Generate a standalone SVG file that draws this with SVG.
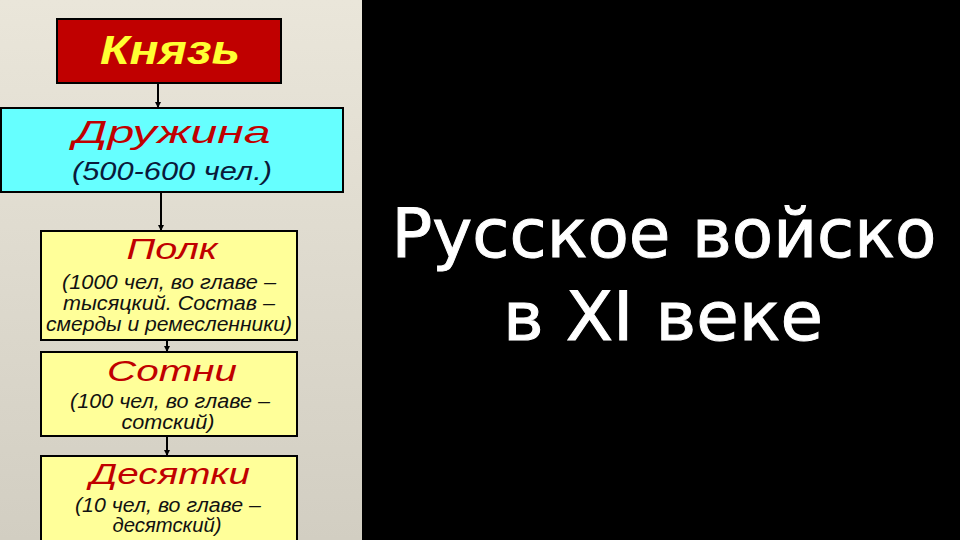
<svg xmlns="http://www.w3.org/2000/svg" width="960" height="540" viewBox="0 0 960 540">
<defs>
<linearGradient id="bg" x1="0" y1="0" x2="0" y2="1">
<stop offset="0" stop-color="#eae6da"/>
<stop offset="1" stop-color="#d2cec2"/>
</linearGradient>
<marker id="arr" markerWidth="6" markerHeight="6" refX="5" refY="3" orient="auto" markerUnits="userSpaceOnUse">
<path d="M0,0 L6,3 L0,6 Z" fill="#000"/>
</marker>
<style>
.box{stroke:#000;stroke-width:2}
.head{font-family:"Liberation Sans",sans-serif;font-style:italic;text-anchor:middle}
.sub{font-family:"Liberation Sans",sans-serif;font-style:italic;font-size:20px;fill:#111;text-anchor:middle}
.con{stroke:#000;stroke-width:2;fill:none;marker-end:url(#arr)}
.title{font-family:"DejaVu Sans",sans-serif;font-size:68px;fill:#fff;stroke:#fff;stroke-width:1;text-anchor:middle}
</style>
</defs>
<rect x="0" y="0" width="362" height="540" fill="url(#bg)"/>
<rect x="362" y="0" width="598" height="540" fill="#000"/>
<g id="connectors">
<line class="con" x1="158" y1="84" x2="158" y2="107"/>
<line class="con" x1="161" y1="193" x2="161" y2="230"/>
<line class="con" x1="167" y1="341" x2="167" y2="351"/>
<line class="con" x1="167" y1="437" x2="167" y2="455"/>
</g>
<g id="knyaz">
<rect class="box" x="57" y="19" width="224" height="64" fill="#c00000"/>
<text class="head" x="170" y="64" font-size="40" font-weight="bold" fill="#ffff33" textLength="140" lengthAdjust="spacingAndGlyphs">Князь</text>
</g>
<g id="druzhina">
<rect class="box" x="1" y="108" width="342" height="84" fill="#66ffff"/>
<text class="head" x="172" y="143" font-size="32" fill="#c00000" textLength="197" lengthAdjust="spacingAndGlyphs">Дружина</text>
<text class="head" x="172" y="180" font-size="25" fill="#0a1a3a" textLength="200" lengthAdjust="spacingAndGlyphs">(500-600 чел.)</text>
</g>
<g id="polk">
<rect class="box" x="41" y="231" width="256" height="109" fill="#ffff99"/>
<text class="head" x="172" y="259" font-size="30" fill="#c00000" textLength="91" lengthAdjust="spacingAndGlyphs">Полк</text>
<text class="sub" x="169" y="289" textLength="214" lengthAdjust="spacingAndGlyphs">(1000 чел, во главе –</text>
<text class="sub" x="169" y="310" textLength="212" lengthAdjust="spacingAndGlyphs">тысяцкий. Состав –</text>
<text class="sub" x="169" y="331" textLength="246" lengthAdjust="spacingAndGlyphs">смерды и ремесленники)</text>
</g>
<g id="sotni">
<rect class="box" x="41" y="352" width="256" height="84" fill="#ffff99"/>
<text class="head" x="172" y="381" font-size="30" fill="#c00000" textLength="130" lengthAdjust="spacingAndGlyphs">Сотни</text>
<text class="sub" x="170" y="408" textLength="200" lengthAdjust="spacingAndGlyphs">(100 чел, во главе –</text>
<text class="sub" x="168" y="429" textLength="93" lengthAdjust="spacingAndGlyphs">сотский)</text>
</g>
<g id="desyatki">
<rect class="box" x="41" y="456" width="256" height="90" fill="#ffff99"/>
<text class="head" x="170" y="484" font-size="30" fill="#c00000" textLength="160" lengthAdjust="spacingAndGlyphs">Десятки</text>
<text class="sub" x="168" y="512" textLength="186" lengthAdjust="spacingAndGlyphs">(10 чел, во главе –</text>
<text class="sub" x="167" y="532" textLength="109" lengthAdjust="spacingAndGlyphs">десятский)</text>
</g>
<g id="title">
<text class="title" x="664" y="257" textLength="545" lengthAdjust="spacingAndGlyphs">Русское войско</text>
<text class="title" x="663" y="340" textLength="320" lengthAdjust="spacingAndGlyphs">в XI веке</text>
</g>
</svg>
